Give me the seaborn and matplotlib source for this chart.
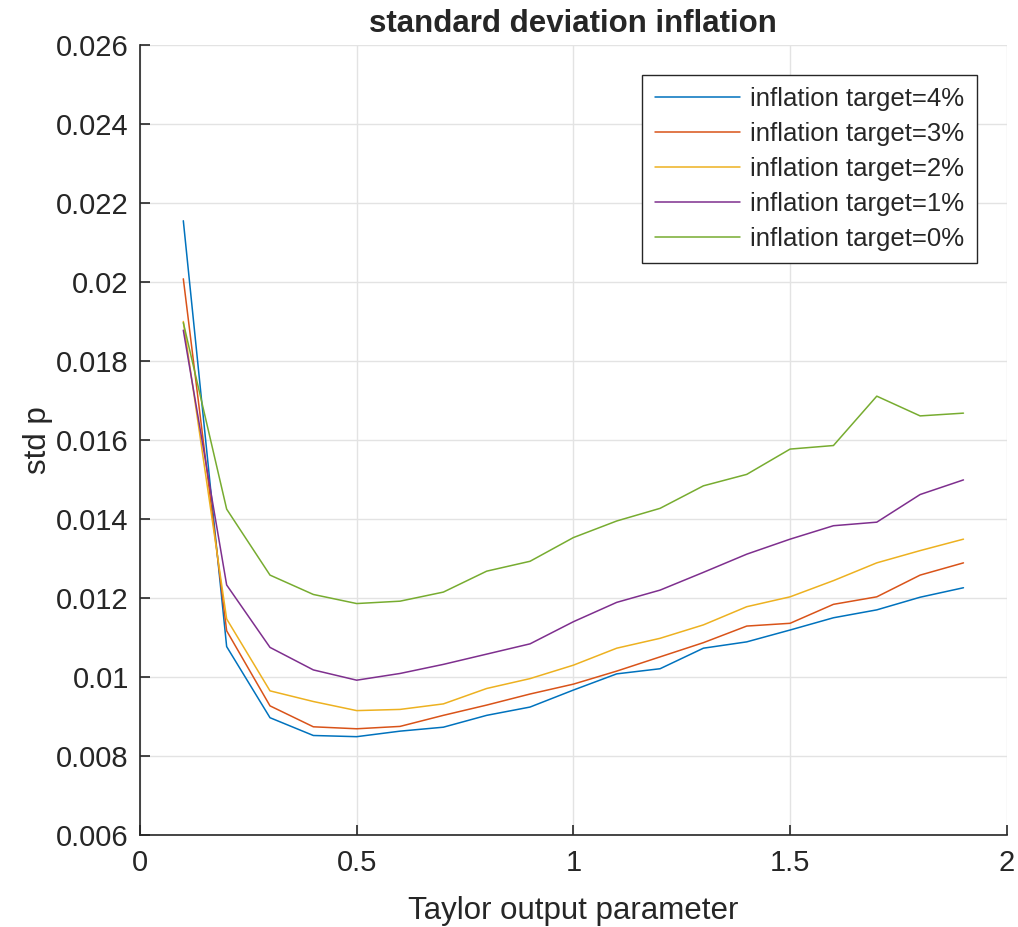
import numpy as np
import pandas as pd
import matplotlib
matplotlib.use("Agg")
import matplotlib.pyplot as plt
from matplotlib.ticker import FuncFormatter
import seaborn as sns

# Taylor output parameter
x_vals = [0.1, 0.2, 0.3, 0.4, 0.5, 0.6, 0.7, 0.8, 0.9, 1.0,
          1.1, 1.2, 1.3, 1.4, 1.5, 1.6, 1.7, 1.8, 1.9]

# std p for each inflation target
std_4 = [0.02155, 0.01077, 0.00897, 0.00852, 0.00849, 0.00863, 0.00873, 0.00903, 0.00924, 0.00967,
         0.01008, 0.01021, 0.01073, 0.01089, 0.01119, 0.01150, 0.01170, 0.01202, 0.01226]
std_3 = [0.02008, 0.01117, 0.00927, 0.00874, 0.00869, 0.00875, 0.00903, 0.00929, 0.00957, 0.00982,
         0.01015, 0.01051, 0.01087, 0.01129, 0.01136, 0.01184, 0.01203, 0.01258, 0.01289]
std_2 = [0.01900, 0.01147, 0.00965, 0.00938, 0.00915, 0.00918, 0.00932, 0.00971, 0.00996, 0.01030,
         0.01073, 0.01098, 0.01132, 0.01178, 0.01203, 0.01244, 0.01289, 0.01320, 0.01349]
std_1 = [0.01878, 0.01233, 0.01075, 0.01018, 0.00992, 0.01009, 0.01032, 0.01058, 0.01084, 0.01140,
         0.01189, 0.01220, 0.01265, 0.01311, 0.01349, 0.01383, 0.01392, 0.01462, 0.01499]
std_0 = [0.01897, 0.01425, 0.01258, 0.01209, 0.01186, 0.01192, 0.01215, 0.01268, 0.01293, 0.01353,
         0.01395, 0.01427, 0.01484, 0.01513, 0.01577, 0.01586, 0.01711, 0.01661, 0.01668]

labels = ["inflation target=4%", "inflation target=3%", "inflation target=2%",
          "inflation target=1%", "inflation target=0%"]
colors = ["#0072BD", "#D95319", "#EDB120", "#7E2F8E", "#77AC30"]

x_ticks = [0, 0.5, 1, 1.5, 2]
y_ticks = [0.006, 0.008, 0.01, 0.012, 0.014, 0.016, 0.018, 0.02, 0.022, 0.024, 0.026]

frames = []
for lab, vals in zip(labels, [std_4, std_3, std_2, std_1, std_0]):
    frames.append(pd.DataFrame({"x": x_vals, "std": vals, "target": lab}))
df = pd.concat(frames, ignore_index=True)

sns.set_style("white")
plt.rcParams["font.family"] = ["Liberation Sans", "DejaVu Sans"]

fig = plt.figure(figsize=(10.18, 9.27), dpi=100)
ax = fig.add_axes([0.1375, 0.0992, 0.8515, 0.8523])

sns.lineplot(data=df, x="x", y="std", hue="target", palette=colors,
             hue_order=labels, linewidth=1.1, ax=ax, sort=False)

ax.set_xlim(0, 2)
ax.set_ylim(0.006, 0.026)
ax.set_xticks(x_ticks)
ax.set_yticks(y_ticks)
ax.xaxis.set_major_formatter(FuncFormatter(lambda v, p: "%g" % v))
ax.yaxis.set_major_formatter(FuncFormatter(lambda v, p: "%g" % round(v, 4)))

ax.grid(True, color="#e3e3e3", linewidth=1.0)
ax.set_axisbelow(True)
for s in ["top", "right"]:
    ax.spines[s].set_visible(False)
for s in ["left", "bottom"]:
    ax.spines[s].set_color("#262626")
    ax.spines[s].set_linewidth(1.2)
ax.tick_params(bottom=True, left=True, top=False, right=False,
               direction="in", length=7, width=1.2, color="#262626",
               labelsize=21, labelcolor="#262626")
ax.tick_params(axis="x", pad=10)
ax.tick_params(axis="y", pad=8)

ax.set_title("standard deviation inflation", fontsize=22.5, fontweight="bold", pad=9)
ax.set_xlabel("Taylor output parameter", fontsize=22.5, color="#262626", labelpad=14)
ax.set_ylabel("std p", fontsize=22.5, color="#262626", labelpad=2)

leg = ax.legend(loc="upper right", fontsize=18.5, frameon=True, fancybox=False,
                edgecolor="#262626", framealpha=1, handlelength=3.3, handletextpad=0.4,
                labelspacing=0.42, borderaxespad=1.15, borderpad=0.5)
leg.get_frame().set_linewidth(1.0)
for line in leg.get_lines():
    line.set_linewidth(1.1)

fig.savefig("out.png", dpi=100)
